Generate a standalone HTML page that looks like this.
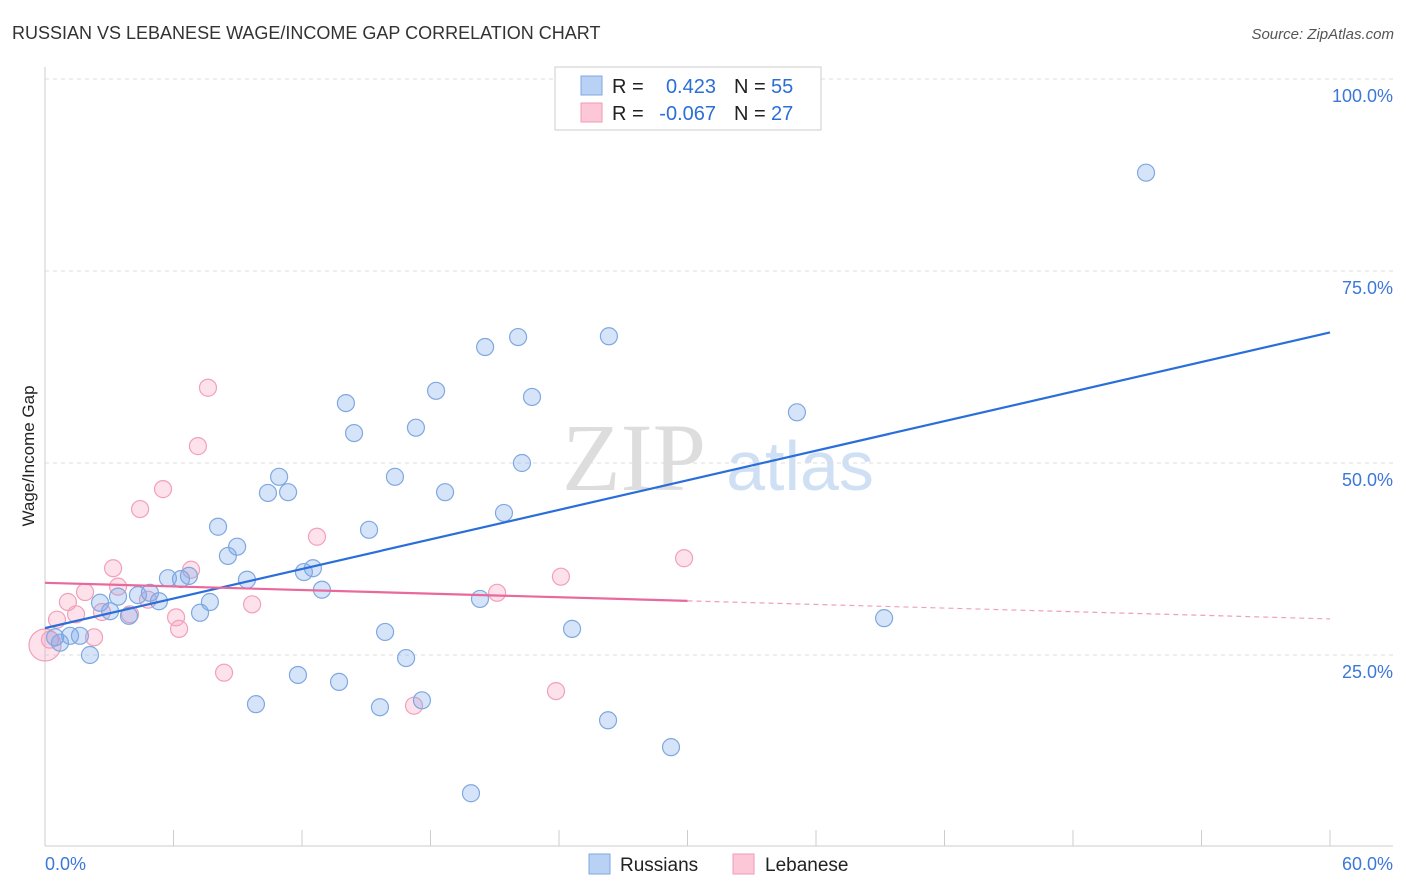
<!DOCTYPE html>
<html><head><meta charset="utf-8"><style>
body{margin:0;background:#fff;font-family:"Liberation Sans",sans-serif;}
svg{display:block}
</style></head><body>
<svg id="chart" width="1406" height="892">
<text x="12" y="39" font-size="18" fill="#333">RUSSIAN VS LEBANESE WAGE/INCOME GAP CORRELATION CHART</text>
<text x="1394" y="39" font-size="15" fill="#555" font-style="italic" text-anchor="end">Source: ZipAtlas.com</text>
<text x="634" y="490" font-size="96" fill="#ddd" font-family="Liberation Serif,serif" text-anchor="middle">ZIP</text>
<text x="800" y="490" font-size="70" fill="#cfe0f5" text-anchor="middle">atlas</text>
<text transform="translate(34,456) rotate(-90)" font-size="17" fill="#222" text-anchor="middle">Wage/Income Gap</text>
<g id="grid"></g><g id="pts"></g><g id="lines"></g>
<rect x="555" y="67" width="266" height="63" fill="#fff" stroke="#ccc"/>
<rect x="581" y="76" width="21" height="19" fill="#b8d1f5" stroke="#7fa8e0"/>
<rect x="581" y="103" width="21" height="19" fill="#fcc8d8" stroke="#f09ab5"/>
<g font-size="20">
<text x="612" y="93" fill="#222">R =</text><text x="716" y="93" fill="#2b6fd6" text-anchor="end">0.423</text>
<text x="734" y="93" fill="#222">N =</text><text x="771" y="93" fill="#2b6fd6">55</text>
<text x="612" y="120" fill="#222">R =</text><text x="716" y="120" fill="#2b6fd6" text-anchor="end">-0.067</text>
<text x="734" y="120" fill="#222">N =</text><text x="771" y="120" fill="#2b6fd6">27</text>
</g>
<rect x="589" y="854" width="21" height="20" fill="#b8d1f5" stroke="#7fa8e0"/>
<text x="620" y="871" font-size="19" fill="#222">Russians</text>
<rect x="733" y="854" width="21" height="20" fill="#fcc8d8" stroke="#f09ab5"/>
<text x="765" y="871" font-size="19" fill="#222">Lebanese</text>
</svg>
<script>
const xTicks=[0,6,12,18,24,30,36,42,48,54,60];
const yTicks=[25,50,75,100];
const yTickLabels=["25.0%","50.0%","75.0%","100.0%"];
const xEndLabels=["0.0%","60.0%"];
const russX=[51.41,22.09,26.33,20.55,14.05,18.26,22.74,35.11,14.43,17.32,22.27,10.93,16.34,10.41,11.35,18.68,21.43,8.08,15.13,8.97,8.54,12.51,12.09,9.43,6.72,6.35,5.74,12.93,4.90,4.34,3.41,5.32,7.70,2.57,3.04,3.92,7.24,39.18,20.31,24.61,15.88,0.47,1.17,1.63,0.70,2.10,16.86,11.81,13.73,9.85,15.64,17.60,26.29,29.23,19.89];
const russY=[87.8,66.4,66.5,65.1,57.8,59.4,58.6,56.6,53.9,54.6,50.0,48.2,48.2,46.1,46.2,46.2,43.5,41.7,41.3,39.1,37.9,36.3,35.8,34.8,35.3,34.9,35.0,33.5,33.1,32.8,32.6,32.0,31.9,31.8,30.7,30.1,30.5,29.8,32.3,28.4,28.0,27.3,27.5,27.5,26.6,25.0,24.6,22.4,21.5,18.6,18.2,19.1,16.5,13.0,7.0];
const lebX=[7.61,7.14,5.51,4.44,12.70,29.84,3.18,6.82,24.09,3.41,1.87,21.11,4.81,1.07,9.67,1.45,3.97,6.12,2.66,0.56,6.26,2.29,0.23,8.36,23.86,17.23,0];
const lebY=[59.8,52.2,46.6,44.0,40.4,37.6,36.3,36.1,35.2,33.9,33.2,33.1,32.2,31.9,31.6,30.3,30.3,29.9,30.6,29.6,28.4,27.3,27.0,22.7,20.3,18.4,26.3];
const russTrend=[28.5,67.0];
const lebTrend=[34.4,29.7];
const lebSolidEnd=30;
const X=v=>45+v/60*1285, Y=v=>847-v*7.68;
const NS="http://www.w3.org/2000/svg";
function mk(tag,at,parent){const e=document.createElementNS(NS,tag);for(const k in at)e.setAttribute(k,at[k]);document.getElementById(parent).appendChild(e);return e;}
let e;
e=mk('line',{x1:45,y1:67,x2:45,y2:846,stroke:'#ccc'},'grid');


e=mk('line',{x1:45,y1:846,x2:1393,y2:846,stroke:'#ccc'},'grid');


yTicks.forEach((t,i)=>{
 e=mk('line',{x1:45,y1:Y(t),x2:1393,y2:Y(t),stroke:'#ddd','stroke-dasharray':'4,4'},'grid');
 
 
 e=mk('text',{x:1393,y:Y(t)+23,'font-size':18,fill:'#3b78d8','text-anchor':'end'},'grid');e.textContent=yTickLabels[i];
 
 
});
xTicks.forEach(t=>{
 e=mk('line',{x1:X(t),y1:830,x2:X(t),y2:846,stroke:'#ccc'},'grid');
 
 });
e=mk('text',{x:45,y:870,'font-size':18,fill:'#3b78d8'},'grid');e.textContent=xEndLabels[0];


e=mk('text',{x:1393,y:870,'font-size':18,fill:'#3b78d8','text-anchor':'end'},'grid');e.textContent=xEndLabels[1];


lebX.forEach((x,i)=>{
 const big=i===lebX.length-1;
 e=mk('circle',{cx:X(x),cy:Y(lebY[i]),r:big?16:8.5,fill:'rgba(248,160,190,0.3)',stroke:'#f2a0b8','stroke-width':1.2},'pts');
 
 
});
russX.forEach((x,i)=>{
 e=mk('circle',{cx:X(x),cy:Y(russY[i]),r:8.5,fill:'rgba(120,165,235,0.3)',stroke:'#7fa8e0','stroke-width':1.2},'pts');
 
 
});
e=mk('line',{x1:X(0),y1:Y(russTrend[0]),x2:X(60),y2:Y(russTrend[1]),stroke:'#2a6fd9','stroke-width':2.2},'lines');


const lebAt=x=>lebTrend[0]+(lebTrend[1]-lebTrend[0])*x/60;
e=mk('line',{x1:X(0),y1:Y(lebTrend[0]),x2:X(lebSolidEnd),y2:Y(lebAt(lebSolidEnd)),stroke:'#e8699a','stroke-width':2.2},'lines');


e=mk('line',{x1:X(lebSolidEnd),y1:Y(lebAt(lebSolidEnd)),x2:X(60),y2:Y(lebTrend[1]),stroke:'#eea0bb','stroke-width':1.2,'stroke-dasharray':'5,4'},'lines');


</script>
</body></html>
